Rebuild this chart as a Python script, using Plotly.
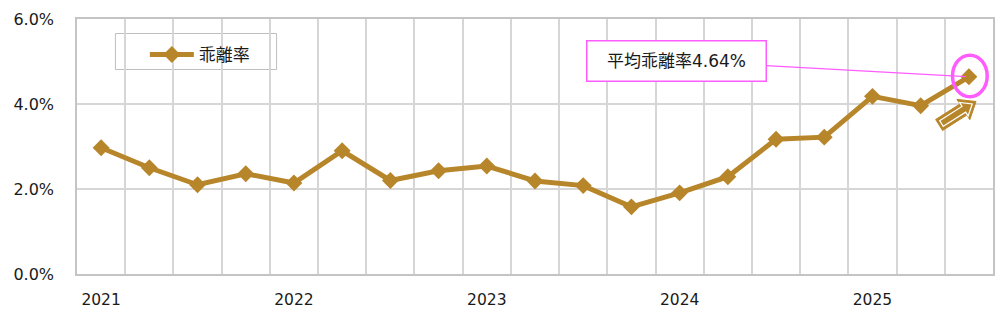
import math
import plotly.graph_objects as go

# ---- data ----
periods = ["2021Q1", "2021Q2", "2021Q3", "2021Q4",
           "2022Q1", "2022Q2", "2022Q3", "2022Q4",
           "2023Q1", "2023Q2", "2023Q3", "2023Q4",
           "2024Q1", "2024Q2", "2024Q3", "2024Q4",
           "2025Q1", "2025Q2", "2025Q3"]
rates = [2.97, 2.50, 2.10, 2.36, 2.14, 2.90, 2.20, 2.43, 2.54, 2.19,
         2.08, 1.58, 1.91, 2.29, 3.17, 3.22, 4.18, 3.96, 4.64]
year_labels = ["2021", "2022", "2023", "2024", "2025"]
y_tickvals = [0, 2, 4, 6]
y_ticktext = ["0.0%", "2.0%", "4.0%", "6.0%"]
series_name = "乖離率"
avg_label = "平均乖離率4.64%"

GOLD = "#B8862A"
PINK = "#FF5CFF"
GRID = "#D6D6D6"
FONT = "DejaVu Sans, Noto Sans CJK JP, sans-serif"

# plot area in pixels (for decorations)
W, H = 1000, 320
PL, PR, PT, PB = 77, 995, 19, 274


def px(x):
    return (x - PL) / (PR - PL)


def py(y):
    return (PB - y) / (PB - PT)


xs = list(range(len(periods)))
year_pos = [periods.index(y + "Q1") for y in year_labels]

fig = go.Figure()
fig.add_trace(go.Scatter(
    x=xs, y=rates, name=series_name, mode="lines+markers",
    line=dict(color=GOLD, width=5),
    marker=dict(symbol="diamond", size=13, color=GOLD),
    customdata=periods,
    hovertemplate="%{customdata}: %{y:.2f}%<extra></extra>",
))

# legend frame (white box, above grid, below data)
fig.add_shape(type="rect", xref="paper", yref="paper",
              x0=px(115.5), x1=px(277), y0=py(33.5), y1=py(69.5),
              line=dict(color="#BFBFBF", width=1), fillcolor="white",
              layer="between")

# highlight ellipse around last point
last_i = len(rates) - 1
fig.add_shape(type="circle", xref="x", yref="y",
              x0=last_i - 0.34, x1=last_i + 0.38,
              y0=rates[last_i] - 0.47, y1=rates[last_i] + 0.51,
              line=dict(color=PINK, width=3.5), layer="above")

# block arrow (decoration) pointing to the last point
def arrow_path(tx, ty, hx, hy, shaft_hw, head_hw, head_len, back=0.0):
    dx, dy = hx - tx, hy - ty
    L = math.hypot(dx, dy)
    ux, uy = dx / L, dy / L
    nx, ny = -uy, ux
    tx2, ty2 = tx + ux * back, ty + uy * back
    hx2, hy2 = hx - ux * back * 1.6, hy - uy * back * 1.6
    bx, by = hx2 - ux * head_len, hy2 - uy * head_len
    pts = [
        (tx2 + nx * shaft_hw, ty2 + ny * shaft_hw),
        (bx + nx * shaft_hw, by + ny * shaft_hw),
        (bx + nx * head_hw, by + ny * head_hw),
        (hx2, hy2),
        (bx - nx * head_hw, by - ny * head_hw),
        (bx - nx * shaft_hw, by - ny * shaft_hw),
        (tx2 - nx * shaft_hw, ty2 - ny * shaft_hw),
    ]
    return "M " + " L ".join(f"{px(a):.5f},{py(b):.5f}" for a, b in pts) + " Z"


fig.add_shape(type="path", xref="paper", yref="paper",
              path=arrow_path(941, 125, 978, 101.5, 6.5, 12, 15),
              line=dict(color=GOLD, width=1), fillcolor=GOLD, layer="above")
fig.add_shape(type="path", xref="paper", yref="paper",
              path=arrow_path(941, 125, 978, 101.5, 3.4, 8, 10, back=2.8),
              line=dict(color="white", width=1.2), fillcolor=GOLD, layer="above")

# callout box with connector
fig.add_annotation(
    x=last_i, y=rates[last_i], xref="x", yref="y",
    ax=679.5 - 972, ay=57.5 - 73.5, axref="pixel", ayref="pixel",
    text=avg_label, showarrow=True, arrowhead=0, arrowwidth=1.2,
    arrowcolor=PINK, standoff=3,
    font=dict(family=FONT, size=17, color="#1a1a1a"),
    bgcolor="white", bordercolor=PINK, borderwidth=1.5, borderpad=1,
    width=176, height=37,
)

fig.update_layout(
    width=W, height=H,
    margin=dict(l=PL, r=W - PR, t=PT, b=H - PB),
    paper_bgcolor="white", plot_bgcolor="white",
    font=dict(family=FONT, size=15, color="#1a1a1a"),
    showlegend=True,
    legend=dict(x=px(145), y=py(37), xanchor="left", yanchor="top",
                bgcolor="rgba(0,0,0,0)", borderwidth=0, itemwidth=44,
                font=dict(family=FONT, size=17, color="#1a1a1a")),
)
fig.update_xaxes(
    range=[-0.5, len(periods) - 0.5],
    tickvals=year_pos, ticktext=year_labels,
    showgrid=False, zeroline=False, ticks="",
    ticklabelstandoff=11,
    minor=dict(tick0=-0.5, dtick=1, showgrid=True, gridcolor=GRID,
               gridwidth=1.5, ticks=""),
    showline=True, mirror=True, linecolor="#C4C4C4", linewidth=1.5,
    tickfont=dict(size=15.5),
    fixedrange=True,
)
fig.update_yaxes(
    range=[0, 6], tickvals=y_tickvals, ticktext=y_ticktext,
    showgrid=True, gridcolor=GRID, gridwidth=1.5, zeroline=False,
    ticks="", ticklabelstandoff=18,
    showline=True, mirror=True, linecolor="#C4C4C4", linewidth=1.5,
    tickfont=dict(size=16),
    fixedrange=True,
)

fig.write_html("out.html")
